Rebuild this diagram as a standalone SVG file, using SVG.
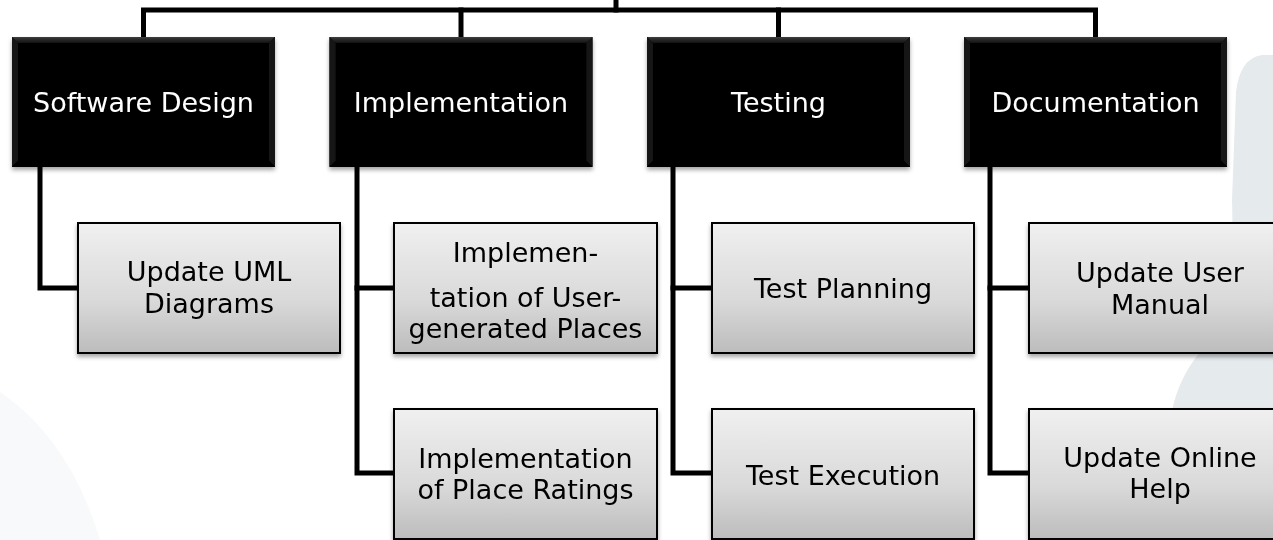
<svg xmlns="http://www.w3.org/2000/svg" width="1273" height="540" viewBox="0 0 1273 540">
  <defs>
    <linearGradient id="gChild" x1="0" y1="0" x2="0" y2="1">
      <stop offset="0" stop-color="#f0f0f0"/>
      <stop offset="0.6" stop-color="#d9d9d9"/>
      <stop offset="1" stop-color="#bcbcbc"/>
    </linearGradient>
    <linearGradient id="gBevelTop" x1="0" y1="0" x2="0" y2="1">
      <stop offset="0" stop-color="#3e3e3e"/>
      <stop offset="1" stop-color="#0e0e0e"/>
    </linearGradient>
    <filter id="shadow" x="-10%" y="-10%" width="120%" height="130%">
      <feDropShadow dx="0" dy="3" stdDeviation="2" flood-color="#000" flood-opacity="0.35"/>
    </filter>
  </defs>
  <style>
    .top rect.base { fill: #060606; }
    .bt { fill: url(#gBevelTop); }
    .bs { fill: #141414; }
    .bb { fill: #000000; }
    .child rect { fill: url(#gChild); stroke: #000; stroke-width: 2; }
    .tt { font-family: "DejaVu Sans", Verdana, sans-serif; font-size: 27px; fill: #ffffff; text-anchor: middle; }
    .ct { font-family: "DejaVu Sans", Verdana, sans-serif; font-size: 27px; fill: #000000; text-anchor: middle; }
    .conn { fill: none; stroke: #000; stroke-width: 5; stroke-linejoin: miter; stroke-linecap: square; }
  </style>

  <!-- background decorations -->
  <rect x="0" y="0" width="1273" height="540" fill="#ffffff"/>
  <path d="M0 392 Q 70 440 100 540 L 0 540 Z" fill="#f8f9fb"/>
  <path d="M1273 55 L1262 55 Q1240 58 1236 92 L1232 200 Q1234 260 1226 300 Q1210 340 1194 360 Q1176 385 1170 420 L1160 540 L1273 540 Z" fill="#e5eaed"/>

  <!-- connectors -->
  <g id="connectors" class="conn">
    <path d="M616 0 V10"/>
    <path d="M143.5 37 V10 H1095.5 V37"/>
    <path d="M461 10 V37"/>
    <path d="M778.5 10 V37"/>
    <path d="M40 167 V288 H78"/>
    <path d="M357 167 V473 H394"/>
    <path d="M357 288 H394"/>
    <path d="M673 167 V473 H712"/>
    <path d="M673 288 H712"/>
    <path d="M990 167 V473 H1029"/>
    <path d="M990 288 H1029"/>
  </g>

  <!-- top level nodes -->
  <g id="node-software-design" class="top" filter="url(#shadow)">
    <rect class="base" x="12" y="37" width="263" height="130"/>
    <polygon class="bt" points="12,37 275,37 269,43 18,43"/>
    <polygon class="bs" points="12,37 18,43 18,161 12,167"/>
    <polygon class="bs" points="275,37 269,43 269,161 275,167"/>
    <polygon class="bb" points="12,167 18,161 269,161 275,167"/>
    <text class="tt" x="143.5" y="112">Software Design</text>
  </g>
  <g id="node-implementation" class="top" filter="url(#shadow)">
    <rect class="base" x="329.5" y="37" width="263" height="130"/>
    <polygon class="bt" points="329.5,37 592.5,37 586.5,43 335.5,43"/>
    <polygon class="bs" points="329.5,37 335.5,43 335.5,161 329.5,167"/>
    <polygon class="bs" points="592.5,37 586.5,43 586.5,161 592.5,167"/>
    <polygon class="bb" points="329.5,167 335.5,161 586.5,161 592.5,167"/>
    <text class="tt" x="461" y="112">Implementation</text>
  </g>
  <g id="node-testing" class="top" filter="url(#shadow)">
    <rect class="base" x="647" y="37" width="263" height="130"/>
    <polygon class="bt" points="647,37 910,37 904,43 653,43"/>
    <polygon class="bs" points="647,37 653,43 653,161 647,167"/>
    <polygon class="bs" points="910,37 904,43 904,161 910,167"/>
    <polygon class="bb" points="647,167 653,161 904,161 910,167"/>
    <text class="tt" x="778.5" y="112">Testing</text>
  </g>
  <g id="node-documentation" class="top" filter="url(#shadow)">
    <rect class="base" x="964" y="37" width="263" height="130"/>
    <polygon class="bt" points="964,37 1227,37 1221,43 970,43"/>
    <polygon class="bs" points="964,37 970,43 970,161 964,167"/>
    <polygon class="bs" points="1227,37 1221,43 1221,161 1227,167"/>
    <polygon class="bb" points="964,167 970,161 1221,161 1227,167"/>
    <text class="tt" x="1095.5" y="112">Documentation</text>
  </g>

  <!-- child nodes -->
  <g id="node-update-uml" class="child" filter="url(#shadow)">
    <rect x="78" y="223" width="262" height="130"/>
    <text class="ct" x="209" y="281">Update UML</text>
    <text class="ct" x="209" y="313">Diagrams</text>
  </g>
  <g id="node-impl-user-places" class="child" filter="url(#shadow)">
    <rect x="394" y="223" width="263" height="130"/>
    <text class="ct" x="525.5" y="262">Implemen-</text>
    <text class="ct" x="525.5" y="307">tation of User-</text>
    <text class="ct" x="525.5" y="338">generated Places</text>
  </g>
  <g id="node-impl-ratings" class="child" filter="url(#shadow)">
    <rect x="394" y="409" width="263" height="130"/>
    <text class="ct" x="525.5" y="468">Implementation</text>
    <text class="ct" x="525.5" y="499">of Place Ratings</text>
  </g>
  <g id="node-test-planning" class="child" filter="url(#shadow)">
    <rect x="712" y="223" width="262" height="130"/>
    <text class="ct" x="843" y="298">Test Planning</text>
  </g>
  <g id="node-test-execution" class="child" filter="url(#shadow)">
    <rect x="712" y="409" width="262" height="130"/>
    <text class="ct" x="843" y="485">Test Execution</text>
  </g>
  <g id="node-user-manual" class="child" filter="url(#shadow)">
    <rect x="1029" y="223" width="263" height="130"/>
    <text class="ct" x="1160" y="282">Update User</text>
    <text class="ct" x="1160" y="314">Manual</text>
  </g>
  <g id="node-online-help" class="child" filter="url(#shadow)">
    <rect x="1029" y="409" width="263" height="130"/>
    <text class="ct" x="1160" y="467">Update Online</text>
    <text class="ct" x="1160" y="498">Help</text>
  </g>
</svg>
